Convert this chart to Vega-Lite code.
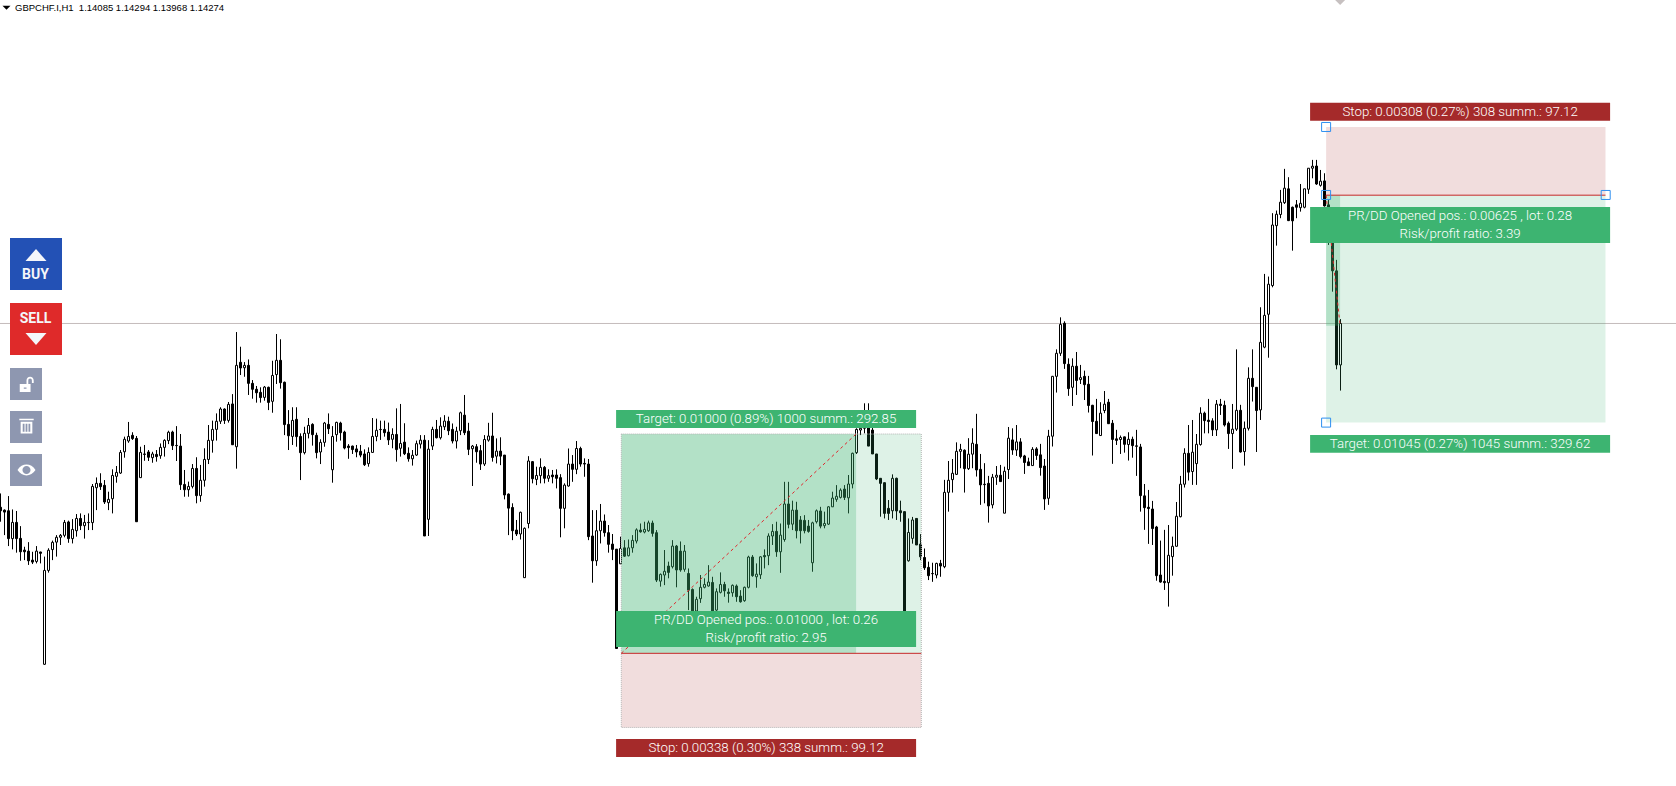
{"$schema":"https://vega.github.io/schema/vega-lite/v6.json","width":1676,"height":786,"autosize":{"type":"none"},"padding":0,"background":"#ffffff","config":{"view":{"stroke":null}},
"datasets":{
"candles":[
{"t":0,"o":1.13436,"h":1.13499,"l":1.13370,"c":1.13420},{"t":1,"o":1.13423,"h":1.13426,"l":1.13309,"c":1.13414},{"t":2,"o":1.13420,"h":1.13487,"l":1.13259,"c":1.13293},{"t":3,"o":1.13293,"h":1.13426,"l":1.13244,"c":1.13367},{"t":4,"o":1.13367,"h":1.13419,"l":1.13229,"c":1.13293},{"t":5,"o":1.13294,"h":1.13350,"l":1.13192,"c":1.13233},{"t":6,"o":1.13241,"h":1.13256,"l":1.13195,"c":1.13233},{"t":7,"o":1.13236,"h":1.13277,"l":1.13173,"c":1.13192},{"t":8,"o":1.13195,"h":1.13233,"l":1.13177,"c":1.13186},{"t":9,"o":1.13189,"h":1.13259,"l":1.13180,"c":1.13236},
{"t":10,"o":1.13232,"h":1.13233,"l":1.13180,"c":1.13226},{"t":11,"o":1.12720,"h":1.13211,"l":1.12717,"c":1.13148},{"t":12,"o":1.13148,"h":1.13249,"l":1.13138,"c":1.13240},{"t":13,"o":1.13243,"h":1.13284,"l":1.13195,"c":1.13276},{"t":14,"o":1.13277,"h":1.13309,"l":1.13211,"c":1.13299},{"t":15,"o":1.13299,"h":1.13314,"l":1.13264,"c":1.13308},{"t":16,"o":1.13308,"h":1.13378,"l":1.13299,"c":1.13367},{"t":17,"o":1.13369,"h":1.13375,"l":1.13274,"c":1.13293},{"t":18,"o":1.13293,"h":1.13382,"l":1.13271,"c":1.13335},{"t":19,"o":1.13329,"h":1.13405,"l":1.13302,"c":1.13385},
{"t":20,"o":1.13385,"h":1.13408,"l":1.13332,"c":1.13352},{"t":21,"o":1.13352,"h":1.13401,"l":1.13293,"c":1.13367},{"t":22,"o":1.13367,"h":1.13408,"l":1.13332,"c":1.13366},{"t":23,"o":1.13366,"h":1.13542,"l":1.13332,"c":1.13531},{"t":24,"o":1.13525,"h":1.13572,"l":1.13423,"c":1.13545},{"t":25,"o":1.13545,"h":1.13591,"l":1.13515,"c":1.13530},{"t":26,"o":1.13536,"h":1.13560,"l":1.13451,"c":1.13460},{"t":27,"o":1.13457,"h":1.13507,"l":1.13423,"c":1.13472},{"t":28,"o":1.13475,"h":1.13609,"l":1.13408,"c":1.13581},{"t":29,"o":1.13577,"h":1.13624,"l":1.13548,"c":1.13595},
{"t":30,"o":1.13592,"h":1.13697,"l":1.13588,"c":1.13686},{"t":31,"o":1.13689,"h":1.13758,"l":1.13662,"c":1.13746},{"t":32,"o":1.13738,"h":1.13825,"l":1.13730,"c":1.13759},{"t":33,"o":1.13764,"h":1.13778,"l":1.13743,"c":1.13749},{"t":34,"o":1.13750,"h":1.13761,"l":1.13370,"c":1.13370},{"t":35,"o":1.13571,"h":1.13712,"l":1.13571,"c":1.13686},{"t":36,"o":1.13679,"h":1.13720,"l":1.13648,"c":1.13677},{"t":37,"o":1.13688,"h":1.13697,"l":1.13647,"c":1.13664},{"t":38,"o":1.13662,"h":1.13689,"l":1.13639,"c":1.13679},{"t":39,"o":1.13677,"h":1.13697,"l":1.13644,"c":1.13667},
{"t":40,"o":1.13671,"h":1.13727,"l":1.13657,"c":1.13709},{"t":41,"o":1.13709,"h":1.13746,"l":1.13667,"c":1.13741},{"t":42,"o":1.13740,"h":1.13785,"l":1.13724,"c":1.13778},{"t":43,"o":1.13779,"h":1.13785,"l":1.13697,"c":1.13717},{"t":44,"o":1.13718,"h":1.13806,"l":1.13647,"c":1.13717},{"t":45,"o":1.13715,"h":1.13770,"l":1.13515,"c":1.13539},{"t":46,"o":1.13540,"h":1.13606,"l":1.13484,"c":1.13516},{"t":47,"o":1.13516,"h":1.13553,"l":1.13484,"c":1.13531},{"t":48,"o":1.13531,"h":1.13633,"l":1.13522,"c":1.13613},{"t":49,"o":1.13613,"h":1.13664,"l":1.13454,"c":1.13489},
{"t":50,"o":1.13489,"h":1.13629,"l":1.13461,"c":1.13559},{"t":51,"o":1.13559,"h":1.13705,"l":1.13530,"c":1.13654},{"t":52,"o":1.13654,"h":1.13811,"l":1.13633,"c":1.13741},{"t":53,"o":1.13741,"h":1.13831,"l":1.13685,"c":1.13791},{"t":54,"o":1.13791,"h":1.13864,"l":1.13740,"c":1.13828},{"t":55,"o":1.13828,"h":1.13892,"l":1.13816,"c":1.13884},{"t":56,"o":1.13884,"h":1.13887,"l":1.13816,"c":1.13832},{"t":57,"o":1.13832,"h":1.13916,"l":1.13822,"c":1.13905},{"t":58,"o":1.13907,"h":1.13952,"l":1.13720,"c":1.13721},{"t":59,"o":1.13712,"h":1.14235,"l":1.13612,"c":1.14083},
{"t":60,"o":1.14097,"h":1.14168,"l":1.14039,"c":1.14071},{"t":61,"o":1.14072,"h":1.14098,"l":1.14031,"c":1.14083},{"t":62,"o":1.14083,"h":1.14110,"l":1.13948,"c":1.14001},{"t":63,"o":1.14001,"h":1.14016,"l":1.13931,"c":1.13974},{"t":64,"o":1.13974,"h":1.13989,"l":1.13913,"c":1.13958},{"t":65,"o":1.13960,"h":1.13983,"l":1.13913,"c":1.13936},{"t":66,"o":1.13937,"h":1.13989,"l":1.13922,"c":1.13984},{"t":67,"o":1.13983,"h":1.13986,"l":1.13879,"c":1.13914},{"t":68,"o":1.13919,"h":1.14104,"l":1.13867,"c":1.14037},{"t":69,"o":1.14041,"h":1.14226,"l":1.13998,"c":1.14106},
{"t":70,"o":1.14106,"h":1.14202,"l":1.13977,"c":1.14004},{"t":71,"o":1.14006,"h":1.14009,"l":1.13765,"c":1.13813},{"t":72,"o":1.13814,"h":1.13879,"l":1.13697,"c":1.13762},{"t":73,"o":1.13759,"h":1.13892,"l":1.13720,"c":1.13832},{"t":74,"o":1.13837,"h":1.13892,"l":1.13712,"c":1.13758},{"t":75,"o":1.13759,"h":1.13773,"l":1.13560,"c":1.13685},{"t":76,"o":1.13685,"h":1.13803,"l":1.13677,"c":1.13773},{"t":77,"o":1.13773,"h":1.13843,"l":1.13750,"c":1.13809},{"t":78,"o":1.13814,"h":1.13819,"l":1.13717,"c":1.13767},{"t":79,"o":1.13764,"h":1.13776,"l":1.13659,"c":1.13685},
{"t":80,"o":1.13688,"h":1.13746,"l":1.13633,"c":1.13732},{"t":81,"o":1.13732,"h":1.13825,"l":1.13712,"c":1.13820},{"t":82,"o":1.13814,"h":1.13864,"l":1.13770,"c":1.13794},{"t":83,"o":1.13607,"h":1.13806,"l":1.13548,"c":1.13759},{"t":84,"o":1.13767,"h":1.13826,"l":1.13735,"c":1.13823},{"t":85,"o":1.13820,"h":1.13826,"l":1.13740,"c":1.13776},{"t":86,"o":1.13779,"h":1.13785,"l":1.13700,"c":1.13706},{"t":87,"o":1.13715,"h":1.13724,"l":1.13657,"c":1.13708},{"t":88,"o":1.13715,"h":1.13717,"l":1.13679,"c":1.13699},{"t":89,"o":1.13702,"h":1.13720,"l":1.13664,"c":1.13688},
{"t":90,"o":1.13691,"h":1.13720,"l":1.13664,"c":1.13674},{"t":91,"o":1.13679,"h":1.13700,"l":1.13624,"c":1.13630},{"t":92,"o":1.13635,"h":1.13709,"l":1.13621,"c":1.13686},{"t":93,"o":1.13686,"h":1.13843,"l":1.13685,"c":1.13759},{"t":94,"o":1.13759,"h":1.13840,"l":1.13737,"c":1.13787},{"t":95,"o":1.13791,"h":1.13831,"l":1.13743,"c":1.13790},{"t":96,"o":1.13791,"h":1.13831,"l":1.13758,"c":1.13776},{"t":97,"o":1.13779,"h":1.13822,"l":1.13720,"c":1.13743},{"t":98,"o":1.13746,"h":1.13796,"l":1.13705,"c":1.13768},{"t":99,"o":1.13768,"h":1.13887,"l":1.13644,"c":1.13699},
{"t":100,"o":1.13705,"h":1.13907,"l":1.13667,"c":1.13727},{"t":101,"o":1.13733,"h":1.13819,"l":1.13674,"c":1.13680},{"t":102,"o":1.13682,"h":1.13709,"l":1.13644,"c":1.13657},{"t":103,"o":1.13657,"h":1.13697,"l":1.13626,"c":1.13673},{"t":104,"o":1.13674,"h":1.13740,"l":1.13670,"c":1.13726},{"t":105,"o":1.13724,"h":1.13765,"l":1.13704,"c":1.13742},{"t":106,"o":1.13742,"h":1.13765,"l":1.13305,"c":1.13305},{"t":107,"o":1.13381,"h":1.13742,"l":1.13305,"c":1.13701},{"t":108,"o":1.13715,"h":1.13803,"l":1.13697,"c":1.13791},{"t":109,"o":1.13791,"h":1.13834,"l":1.13750,"c":1.13753},
{"t":110,"o":1.13753,"h":1.13846,"l":1.13745,"c":1.13806},{"t":111,"o":1.13803,"h":1.13856,"l":1.13788,"c":1.13829},{"t":112,"o":1.13828,"h":1.13849,"l":1.13765,"c":1.13785},{"t":113,"o":1.13791,"h":1.13818,"l":1.13727,"c":1.13738},{"t":114,"o":1.13738,"h":1.13803,"l":1.13704,"c":1.13783},{"t":115,"o":1.13785,"h":1.13872,"l":1.13765,"c":1.13867},{"t":116,"o":1.13856,"h":1.13948,"l":1.13765,"c":1.13776},{"t":117,"o":1.13783,"h":1.13821,"l":1.13674,"c":1.13700},{"t":118,"o":1.13703,"h":1.13720,"l":1.13533,"c":1.13715},{"t":119,"o":1.13712,"h":1.13724,"l":1.13639,"c":1.13689},
{"t":120,"o":1.13694,"h":1.13720,"l":1.13606,"c":1.13633},{"t":121,"o":1.13633,"h":1.13765,"l":1.13624,"c":1.13745},{"t":122,"o":1.13742,"h":1.13821,"l":1.13735,"c":1.13761},{"t":123,"o":1.13761,"h":1.13867,"l":1.13644,"c":1.13663},{"t":124,"o":1.13669,"h":1.13750,"l":1.13636,"c":1.13692},{"t":125,"o":1.13692,"h":1.13755,"l":1.13628,"c":1.13669},{"t":126,"o":1.13674,"h":1.13674,"l":1.13472,"c":1.13492},{"t":127,"o":1.13496,"h":1.13499,"l":1.13309,"c":1.13432},{"t":128,"o":1.13435,"h":1.13454,"l":1.13286,"c":1.13329},{"t":129,"o":1.13332,"h":1.13378,"l":1.13305,"c":1.13314},
{"t":130,"o":1.13314,"h":1.13416,"l":1.13289,"c":1.13413},{"t":131,"o":1.13115,"h":1.13344,"l":1.13115,"c":1.13340},{"t":132,"o":1.13362,"h":1.13669,"l":1.13340,"c":1.13647},{"t":133,"o":1.13644,"h":1.13647,"l":1.13545,"c":1.13566},{"t":134,"o":1.13563,"h":1.13621,"l":1.13537,"c":1.13581},{"t":135,"o":1.13580,"h":1.13659,"l":1.13545,"c":1.13618},{"t":136,"o":1.13618,"h":1.13624,"l":1.13545,"c":1.13568},{"t":137,"o":1.13568,"h":1.13609,"l":1.13552,"c":1.13580},{"t":138,"o":1.13583,"h":1.13606,"l":1.13545,"c":1.13575},{"t":139,"o":1.13583,"h":1.13609,"l":1.13522,"c":1.13568},
{"t":140,"o":1.13571,"h":1.13587,"l":1.13299,"c":1.13431},{"t":141,"o":1.13431,"h":1.13545,"l":1.13340,"c":1.13537},{"t":142,"o":1.13533,"h":1.13704,"l":1.13530,"c":1.13633},{"t":143,"o":1.13633,"h":1.13674,"l":1.13552,"c":1.13609},{"t":144,"o":1.13609,"h":1.13738,"l":1.13587,"c":1.13704},{"t":145,"o":1.13704,"h":1.13712,"l":1.13621,"c":1.13633},{"t":146,"o":1.13636,"h":1.13659,"l":1.13575,"c":1.13633},{"t":147,"o":1.13633,"h":1.13656,"l":1.13286,"c":1.13302},{"t":148,"o":1.13305,"h":1.13423,"l":1.13092,"c":1.13192},{"t":149,"o":1.13192,"h":1.13423,"l":1.13169,"c":1.13329},
{"t":150,"o":1.13329,"h":1.13451,"l":1.13271,"c":1.13373},{"t":151,"o":1.13373,"h":1.13403,"l":1.13302,"c":1.13320},{"t":152,"o":1.13320,"h":1.13355,"l":1.13229,"c":1.13267},{"t":153,"o":1.13268,"h":1.13314,"l":1.13195,"c":1.13244},{"t":154,"o":1.13245,"h":1.13245,"l":1.12792,"c":1.12792},{"t":155,"o":1.13178,"h":1.13302,"l":1.13178,"c":1.13248},{"t":156,"o":1.13251,"h":1.13286,"l":1.13210,"c":1.13213},{"t":157,"o":1.13215,"h":1.13289,"l":1.13212,"c":1.13251},{"t":158,"o":1.13251,"h":1.13309,"l":1.13229,"c":1.13285},{"t":159,"o":1.13282,"h":1.13340,"l":1.13271,"c":1.13333},
{"t":160,"o":1.13332,"h":1.13362,"l":1.13320,"c":1.13324},{"t":161,"o":1.13323,"h":1.13370,"l":1.13317,"c":1.13335},{"t":162,"o":1.13329,"h":1.13375,"l":1.13324,"c":1.13365},{"t":163,"o":1.13364,"h":1.13375,"l":1.13302,"c":1.13317},{"t":164,"o":1.13320,"h":1.13332,"l":1.13095,"c":1.13104},{"t":165,"o":1.13099,"h":1.13134,"l":1.13074,"c":1.13130},{"t":166,"o":1.13127,"h":1.13241,"l":1.13081,"c":1.13144},{"t":167,"o":1.13168,"h":1.13188,"l":1.13112,"c":1.13139},{"t":168,"o":1.13165,"h":1.13286,"l":1.13157,"c":1.13259},{"t":169,"o":1.13259,"h":1.13264,"l":1.13071,"c":1.13150},
{"t":170,"o":1.13236,"h":1.13280,"l":1.13142,"c":1.13150},{"t":171,"o":1.13153,"h":1.13264,"l":1.13142,"c":1.13236},{"t":172,"o":1.13134,"h":1.13157,"l":1.12967,"c":1.13058},{"t":173,"o":1.13061,"h":1.13066,"l":1.12952,"c":1.12963},{"t":174,"o":1.12963,"h":1.13028,"l":1.12950,"c":1.13016},{"t":175,"o":1.13019,"h":1.13127,"l":1.13000,"c":1.13071},{"t":176,"o":1.13071,"h":1.13112,"l":1.13066,"c":1.13084},{"t":177,"o":1.13077,"h":1.13172,"l":1.13074,"c":1.13095},{"t":178,"o":1.13093,"h":1.13119,"l":1.12952,"c":1.12963},{"t":179,"o":1.12967,"h":1.13066,"l":1.12960,"c":1.13051},
{"t":180,"o":1.13048,"h":1.13139,"l":1.13043,"c":1.13084},{"t":181,"o":1.13084,"h":1.13096,"l":1.13028,"c":1.13055},{"t":182,"o":1.13049,"h":1.13066,"l":1.13001,"c":1.13043},{"t":183,"o":1.13046,"h":1.13084,"l":1.13028,"c":1.13080},{"t":184,"o":1.13077,"h":1.13084,"l":1.13005,"c":1.13028},{"t":185,"o":1.13031,"h":1.13058,"l":1.13001,"c":1.13005},{"t":186,"o":1.13010,"h":1.13074,"l":1.13005,"c":1.13071},{"t":187,"o":1.13071,"h":1.13215,"l":1.13066,"c":1.13209},{"t":188,"o":1.13209,"h":1.13218,"l":1.13119,"c":1.13124},{"t":189,"o":1.13119,"h":1.13180,"l":1.13069,"c":1.13131},
{"t":190,"o":1.13128,"h":1.13213,"l":1.13109,"c":1.13210},{"t":191,"o":1.13216,"h":1.13244,"l":1.13157,"c":1.13210},{"t":192,"o":1.13215,"h":1.13317,"l":1.13172,"c":1.13305},{"t":193,"o":1.13305,"h":1.13359,"l":1.13264,"c":1.13326},{"t":194,"o":1.13326,"h":1.13370,"l":1.13210,"c":1.13233},{"t":195,"o":1.13233,"h":1.13362,"l":1.13137,"c":1.13309},{"t":196,"o":1.13289,"h":1.13552,"l":1.13279,"c":1.13451},{"t":197,"o":1.13451,"h":1.13552,"l":1.13340,"c":1.13358},{"t":198,"o":1.13359,"h":1.13466,"l":1.13332,"c":1.13423},{"t":199,"o":1.13423,"h":1.13461,"l":1.13294,"c":1.13329},
{"t":200,"o":1.13378,"h":1.13396,"l":1.13271,"c":1.13329},{"t":201,"o":1.13376,"h":1.13400,"l":1.13317,"c":1.13329},{"t":202,"o":1.13350,"h":1.13378,"l":1.13320,"c":1.13326},{"t":203,"o":1.13183,"h":1.13370,"l":1.13142,"c":1.13365},{"t":204,"o":1.13370,"h":1.13426,"l":1.13362,"c":1.13420},{"t":205,"o":1.13419,"h":1.13438,"l":1.13340,"c":1.13350},{"t":206,"o":1.13352,"h":1.13416,"l":1.13340,"c":1.13362},{"t":207,"o":1.13359,"h":1.13441,"l":1.13355,"c":1.13438},{"t":208,"o":1.13438,"h":1.13507,"l":1.13438,"c":1.13478},{"t":209,"o":1.13472,"h":1.13537,"l":1.13461,"c":1.13486},
{"t":210,"o":1.13481,"h":1.13522,"l":1.13476,"c":1.13514},{"t":211,"o":1.13519,"h":1.13537,"l":1.13469,"c":1.13481},{"t":212,"o":1.13479,"h":1.13583,"l":1.13408,"c":1.13542},{"t":213,"o":1.13542,"h":1.13685,"l":1.13522,"c":1.13682},{"t":214,"o":1.13685,"h":1.13796,"l":1.13679,"c":1.13791},{"t":215,"o":1.13788,"h":1.13818,"l":1.13765,"c":1.13796},{"t":216,"o":1.13796,"h":1.13910,"l":1.13773,"c":1.13864},{"t":217,"o":1.13864,"h":1.13910,"l":1.13715,"c":1.13715},{"t":218,"o":1.13788,"h":1.13834,"l":1.13679,"c":1.13679},{"t":219,"o":1.13679,"h":1.13679,"l":1.13560,"c":1.13565},
{"t":220,"o":1.13568,"h":1.13568,"l":1.13393,"c":1.13545},{"t":221,"o":1.13548,"h":1.13548,"l":1.13385,"c":1.13408},{"t":222,"o":1.13431,"h":1.13469,"l":1.13378,"c":1.13408},{"t":223,"o":1.13420,"h":1.13586,"l":1.13385,"c":1.13568},{"t":224,"o":1.13568,"h":1.13571,"l":1.13378,"c":1.13419},{"t":225,"o":1.13420,"h":1.13466,"l":1.13370,"c":1.13411},{"t":226,"o":1.13416,"h":1.13416,"l":1.12963,"c":1.12963},{"t":227,"o":1.13192,"h":1.13385,"l":1.13188,"c":1.13321},{"t":228,"o":1.13294,"h":1.13392,"l":1.13270,"c":1.13378},{"t":229,"o":1.13385,"h":1.13385,"l":1.13264,"c":1.13264},
{"t":230,"o":1.13268,"h":1.13314,"l":1.13195,"c":1.13210},{"t":231,"o":1.13207,"h":1.13248,"l":1.13150,"c":1.13160},{"t":232,"o":1.13162,"h":1.13188,"l":1.13104,"c":1.13124},{"t":233,"o":1.13134,"h":1.13183,"l":1.13096,"c":1.13133},{"t":234,"o":1.13127,"h":1.13183,"l":1.13112,"c":1.13180},{"t":235,"o":1.13180,"h":1.13196,"l":1.13119,"c":1.13168},{"t":236,"o":1.13165,"h":1.13561,"l":1.13158,"c":1.13504},{"t":237,"o":1.13504,"h":1.13647,"l":1.13416,"c":1.13559},{"t":238,"o":1.13562,"h":1.13656,"l":1.13503,"c":1.13591},{"t":239,"o":1.13586,"h":1.13732,"l":1.13583,"c":1.13691},
{"t":240,"o":1.13691,"h":1.13725,"l":1.13614,"c":1.13700},{"t":241,"o":1.13696,"h":1.13700,"l":1.13503,"c":1.13612},{"t":242,"o":1.13612,"h":1.13751,"l":1.13606,"c":1.13678},{"t":243,"o":1.13678,"h":1.13796,"l":1.13614,"c":1.13728},{"t":244,"o":1.13723,"h":1.13862,"l":1.13576,"c":1.13606},{"t":245,"o":1.13609,"h":1.13679,"l":1.13447,"c":1.13538},{"t":246,"o":1.13541,"h":1.13637,"l":1.13454,"c":1.13539},{"t":247,"o":1.13545,"h":1.13579,"l":1.13366,"c":1.13442},{"t":248,"o":1.13447,"h":1.13588,"l":1.13431,"c":1.13573},{"t":249,"o":1.13573,"h":1.13624,"l":1.13538,"c":1.13582},
{"t":250,"o":1.13582,"h":1.13629,"l":1.13553,"c":1.13553},{"t":251,"o":1.13409,"h":1.13621,"l":1.13409,"c":1.13600},{"t":252,"o":1.13608,"h":1.13802,"l":1.13565,"c":1.13751},{"t":253,"o":1.13743,"h":1.13796,"l":1.13675,"c":1.13697},{"t":254,"o":1.13697,"h":1.13811,"l":1.13670,"c":1.13734},{"t":255,"o":1.13734,"h":1.13751,"l":1.13659,"c":1.13667},{"t":256,"o":1.13670,"h":1.13675,"l":1.13588,"c":1.13640},{"t":257,"o":1.13643,"h":1.13662,"l":1.13626,"c":1.13626},{"t":258,"o":1.13626,"h":1.13710,"l":1.13626,"c":1.13700},{"t":259,"o":1.13702,"h":1.13710,"l":1.13652,"c":1.13672},
{"t":260,"o":1.13675,"h":1.13725,"l":1.13580,"c":1.13617},{"t":261,"o":1.13624,"h":1.13656,"l":1.13424,"c":1.13474},{"t":262,"o":1.13477,"h":1.13789,"l":1.13447,"c":1.13760},{"t":263,"o":1.13760,"h":1.14035,"l":1.13713,"c":1.14033},{"t":264,"o":1.14033,"h":1.14156,"l":1.13959,"c":1.14138},{"t":265,"o":1.14138,"h":1.14302,"l":1.14126,"c":1.14270},{"t":266,"o":1.14275,"h":1.14284,"l":1.14067,"c":1.14091},{"t":267,"o":1.14088,"h":1.14115,"l":1.13944,"c":1.13977},{"t":268,"o":1.13983,"h":1.14115,"l":1.13898,"c":1.14079},{"t":269,"o":1.14079,"h":1.14144,"l":1.13948,"c":1.14014},
{"t":270,"o":1.14018,"h":1.14085,"l":1.13998,"c":1.14027},{"t":271,"o":1.14033,"h":1.14059,"l":1.13925,"c":1.13995},{"t":272,"o":1.13997,"h":1.14035,"l":1.13868,"c":1.13900},{"t":273,"o":1.13901,"h":1.13903,"l":1.13672,"c":1.13827},{"t":274,"o":1.13828,"h":1.13930,"l":1.13770,"c":1.13772},{"t":275,"o":1.13763,"h":1.13915,"l":1.13763,"c":1.13865},{"t":276,"o":1.13877,"h":1.13966,"l":1.13865,"c":1.13906},{"t":277,"o":1.13915,"h":1.13930,"l":1.13816,"c":1.13817},{"t":278,"o":1.13819,"h":1.13834,"l":1.13634,"c":1.13745},{"t":279,"o":1.13748,"h":1.13789,"l":1.13720,"c":1.13741},
{"t":280,"o":1.13745,"h":1.13763,"l":1.13679,"c":1.13754},{"t":281,"o":1.13757,"h":1.13758,"l":1.13685,"c":1.13723},{"t":282,"o":1.13722,"h":1.13778,"l":1.13649,"c":1.13746},{"t":283,"o":1.13746,"h":1.13758,"l":1.13662,"c":1.13717},{"t":284,"o":1.13716,"h":1.13789,"l":1.13579,"c":1.13714},{"t":285,"o":1.13711,"h":1.13725,"l":1.13416,"c":1.13489},{"t":286,"o":1.13488,"h":1.13542,"l":1.13333,"c":1.13434},{"t":287,"o":1.13436,"h":1.13515,"l":1.13269,"c":1.13430},{"t":288,"o":1.13428,"h":1.13465,"l":1.13264,"c":1.13339},{"t":289,"o":1.13346,"h":1.13351,"l":1.13101,"c":1.13124},
{"t":290,"o":1.13127,"h":1.13284,"l":1.13092,"c":1.13095},{"t":291,"o":1.13098,"h":1.13333,"l":1.13059,"c":1.13092},{"t":292,"o":1.13092,"h":1.13355,"l":1.12983,"c":1.13217},{"t":293,"o":1.13211,"h":1.13302,"l":1.13124,"c":1.13258},{"t":294,"o":1.13258,"h":1.13460,"l":1.13257,"c":1.13395},{"t":295,"o":1.13393,"h":1.13579,"l":1.13390,"c":1.13541},{"t":296,"o":1.13541,"h":1.13705,"l":1.13526,"c":1.13682},{"t":297,"o":1.13682,"h":1.13811,"l":1.13558,"c":1.13596},{"t":298,"o":1.13599,"h":1.13834,"l":1.13538,"c":1.13687},{"t":299,"o":1.13635,"h":1.13770,"l":1.13538,"c":1.13723},
{"t":300,"o":1.13722,"h":1.13892,"l":1.13717,"c":1.13865},{"t":301,"o":1.13865,"h":1.13872,"l":1.13773,"c":1.13831},{"t":302,"o":1.13833,"h":1.13930,"l":1.13773,"c":1.13827},{"t":303,"o":1.13830,"h":1.13842,"l":1.13761,"c":1.13789},{"t":304,"o":1.13789,"h":1.13925,"l":1.13761,"c":1.13906},{"t":305,"o":1.13906,"h":1.13930,"l":1.13857,"c":1.13900},{"t":306,"o":1.13901,"h":1.13922,"l":1.13804,"c":1.13811},{"t":307,"o":1.13819,"h":1.13827,"l":1.13702,"c":1.13772},{"t":308,"o":1.13772,"h":1.13907,"l":1.13611,"c":1.13792},{"t":309,"o":1.13792,"h":1.14156,"l":1.13784,"c":1.13878},
{"t":310,"o":1.13878,"h":1.13903,"l":1.13685,"c":1.13688},{"t":311,"o":1.13690,"h":1.13827,"l":1.13626,"c":1.13796},{"t":312,"o":1.13796,"h":1.14074,"l":1.13786,"c":1.14024},{"t":313,"o":1.14024,"h":1.14156,"l":1.13918,"c":1.13986},{"t":314,"o":1.13983,"h":1.13983,"l":1.13688,"c":1.13877},{"t":315,"o":1.13880,"h":1.14348,"l":1.13834,"c":1.14188},{"t":316,"o":1.14166,"h":1.14500,"l":1.14161,"c":1.14311},{"t":317,"o":1.14316,"h":1.14488,"l":1.14118,"c":1.14453},{"t":318,"o":1.14447,"h":1.14777,"l":1.14439,"c":1.14723},{"t":319,"o":1.14720,"h":1.14789,"l":1.14629,"c":1.14772},
{"t":320,"o":1.14771,"h":1.14883,"l":1.14754,"c":1.14827},{"t":321,"o":1.14825,"h":1.14979,"l":1.14819,"c":1.14891},{"t":322,"o":1.14888,"h":1.14941,"l":1.14741,"c":1.14743},{"t":323,"o":1.14804,"h":1.14807,"l":1.14606,"c":1.14742},{"t":324,"o":1.14815,"h":1.14837,"l":1.14754,"c":1.14804},{"t":325,"o":1.14802,"h":1.14910,"l":1.14784,"c":1.14822},{"t":326,"o":1.14804,"h":1.14888,"l":1.14799,"c":1.14888},{"t":327,"o":1.14886,"h":1.14982,"l":1.14865,"c":1.14982},{"t":328,"o":1.14982,"h":1.15020,"l":1.14936,"c":1.14991},{"t":329,"o":1.14992,"h":1.15020,"l":1.14906,"c":1.14910},
{"t":330,"o":1.14904,"h":1.14974,"l":1.14898,"c":1.14923},{"t":331,"o":1.14924,"h":1.14959,"l":1.14807,"c":1.14810},{"t":332,"o":1.14815,"h":1.14837,"l":1.14632,"c":1.14670},{"t":333,"o":1.14670,"h":1.14680,"l":1.14419,"c":1.14514},{"t":334,"o":1.14514,"h":1.14564,"l":1.14065,"c":1.14085},{"t":335,"o":1.14085,"h":1.14294,"l":1.13968,"c":1.14274}
],
"zones":[{"kind":"reward","t":155.2,"t2":230.2,"p":1.12770,"p2":1.13770},{"kind":"risk","t":155.2,"t2":230.2,"p":1.12432,"p2":1.12770},{"kind":"reward","t":331.4,"t2":401.25,"p":1.13822,"p2":1.14859},{"kind":"risk","t":331.4,"t2":401.25,"p":1.14859,"p2":1.15170}],
"progress":[{"t":155.2,"t2":213.9,"p":1.12770,"p2":1.13770},{"t":331.4,"t2":334.9,"p":1.14264,"p2":1.14859}],
"frame":[{"t":155.2,"t2":230.2,"p":1.12432,"p2":1.13770}],
"paths":[{"t":155.2,"t2":213.9,"p":1.12770,"p2":1.13770},{"t":331.4,"t2":334.9,"p":1.14859,"p2":1.14264}],
"entries":[{"t":155.2,"t2":230.2,"p":1.12770},{"t":331.4,"t2":401.25,"p":1.14859}],
"boxes":[{"kind":"good","t":153.9,"t2":228.9,"p":1.13797,"p2":1.13880},{"kind":"good","t":153.9,"t2":228.9,"p":1.12799,"p2":1.12963},{"kind":"bad","t":153.9,"t2":228.9,"p":1.12297,"p2":1.12379},{"kind":"bad","t":327.4,"t2":402.4,"p":1.15198,"p2":1.15280},{"kind":"good","t":327.4,"t2":402.4,"p":1.14641,"p2":1.14805},{"kind":"good","t":327.4,"t2":402.4,"p":1.13684,"p2":1.13766}],
"labels":[{"t":191.4,"p":1.13839,"label":"Target: 0.01000 (0.89%) 1000 summ.: 292.85"},{"t":191.4,"p":1.12920,"label":"PR/DD Opened pos.: 0.01000 , lot: 0.26"},{"t":191.4,"p":1.12838,"label":"Risk/profit ratio: 2.95"},{"t":191.4,"p":1.12338,"label":"Stop: 0.00338 (0.30%) 338 summ.: 99.12"},{"t":364.9,"p":1.15239,"label":"Stop: 0.00308 (0.27%) 308 summ.: 97.12"},{"t":364.9,"p":1.14763,"label":"PR/DD Opened pos.: 0.00625 , lot: 0.28"},{"t":364.9,"p":1.14681,"label":"Risk/profit ratio: 3.39"},{"t":364.9,"p":1.13725,"label":"Target: 0.01045 (0.27%) 1045 summ.: 329.62"}],
"handles":[{"t":331.4,"p":1.15170},{"t":331.4,"p":1.14860},{"t":401.3,"p":1.14860},{"t":331.4,"p":1.13822}],
"buttons":[{"kind":"buy","t":2.375,"t2":15.375,"p":1.14427,"p2":1.14664},{"kind":"sell","t":2.375,"t2":15.375,"p":1.14130,"p2":1.14367},{"kind":"tool","t":2.375,"t2":10.375,"p":1.13925,"p2":1.14071},{"kind":"tool","t":2.375,"t2":10.375,"p":1.13729,"p2":1.13875},{"kind":"tool","t":2.375,"t2":10.375,"p":1.13533,"p2":1.13679}],
"arrows":[{"glyph":"up","t":8.875,"p":1.14586},{"glyph":"down","t":8.875,"p":1.14203}],
"buttonText":[{"t":8.75,"p":1.14495,"label":"BUY"},{"t":8.75,"p":1.14293,"label":"SELL"}],
"icons":[{"glyph":"lock","t":6.5,"p":1.13994},{"glyph":"trash","t":6.5,"p":1.13807},{"glyph":"eye","t":6.5,"p":1.13606}]
},
"encoding":{"x":{"field":"t","type":"quantitative","scale":{"domain":[-0.125,418.875],"nice":false,"zero":false,"padding":0},"axis":null},"y":{"field":"p","type":"quantitative","scale":{"domain":[1.12165,1.15749],"nice":false,"zero":false},"axis":null}},
"layer":[
{"data":{"values":[{"p":1.14274}]},"mark":{"type":"rule","color":"#c4bcbc","strokeWidth":1},"encoding":{"x":{"value":0},"x2":{"value":1676}}},
{"data":{"name":"candles"},"mark":{"type":"rule","color":"#000000","strokeWidth":1},"encoding":{"y":{"field":"l","type":"quantitative","axis":null},"y2":{"field":"h"}}},
{"data":{"name":"candles"},"mark":{"type":"bar","size":2,"stroke":"#000000","strokeWidth":1},"encoding":{"y":{"field":"o","type":"quantitative","axis":null},"y2":{"field":"c"},"fill":{"condition":{"test":"datum.c>=datum.o","value":"#ffffff"},"value":"#000000"}}},
{"data":{"name":"zones"},"transform":[{"filter":"datum.kind==='reward'"}],"mark":{"type":"rect","fill":"#3cb371","opacity":0.17},"encoding":{"x2":{"field":"t2"},"y2":{"field":"p2"}}},
{"data":{"name":"zones"},"transform":[{"filter":"datum.kind==='risk'"}],"mark":{"type":"rect","fill":"#a52a2a","opacity":0.16},"encoding":{"x2":{"field":"t2"},"y2":{"field":"p2"}}},
{"data":{"name":"progress"},"mark":{"type":"rect","fill":"#3cb371","opacity":0.265},"encoding":{"x2":{"field":"t2"},"y2":{"field":"p2"}}},
{"data":{"name":"frame"},"mark":{"type":"rect","fillOpacity":0,"stroke":"#b5b5b5","strokeWidth":1,"strokeDash":[1,1]},"encoding":{"x2":{"field":"t2"},"y2":{"field":"p2"}}},
{"data":{"name":"paths"},"mark":{"type":"rule","color":"#e0262c","strokeWidth":1,"strokeDash":[3,3]},"encoding":{"x2":{"field":"t2"},"y2":{"field":"p2"}}},
{"data":{"name":"entries"},"mark":{"type":"rule","color":"#c62828","strokeWidth":1},"encoding":{"x2":{"field":"t2"}}},
{"data":{"name":"boxes"},"mark":{"type":"rect"},"encoding":{"x2":{"field":"t2"},"y2":{"field":"p2"},"fill":{"field":"kind","type":"nominal","legend":null,"scale":{"domain":["good","bad","buy","sell","tool"],"range":["#3db471","#a52a2a","#2351b5","#df2a2a","#8e97b0"]}}}},
{"data":{"name":"labels"},"mark":{"type":"text","font":"Roboto","fontSize":13.3,"fontWeight":300,"color":"#ffffff","align":"center","baseline":"middle"},"encoding":{"text":{"field":"label","type":"nominal"}}},
{"data":{"name":"handles"},"mark":{"type":"point","shape":"square","filled":false,"size":81,"color":"#2e8ff0","strokeWidth":1,"opacity":1}},
{"data":{"name":"buttons"},"mark":{"type":"rect"},"encoding":{"x2":{"field":"t2"},"y2":{"field":"p2"},"fill":{"field":"kind","type":"nominal","legend":null,"scale":{"domain":["good","bad","buy","sell","tool"],"range":["#3db471","#a52a2a","#2351b5","#df2a2a","#8e97b0"]}}}},
{"data":{"name":"arrows"},"mark":{"type":"point","filled":true,"opacity":1,"color":"#f4f6fa","size":441,"strokeWidth":0},"encoding":{"shape":{"field":"glyph","type":"nominal","legend":null,"scale":{"domain":["up","down","lock","trash","eye"],"range":["M-1,0.57L1,0.57L0,-0.57Z","M-1,-0.57L1,-0.57L0,0.57Z","M-0.75,-0.1L0.45,-0.1L0.45,0.8L-0.75,0.8ZM-0.3,0.3L-0.3,0.42L0,0.42L0,0.3ZM0,-0.1L0,-0.5A0.4,0.4 0 0 1 0.8,-0.5L0.8,-0.2L0.6,-0.2L0.6,-0.5A0.2,0.2 0 0 0 0.2,-0.5L0.2,-0.1Z","M-0.8,-0.8L0.8,-0.8L0.8,-0.62L-0.8,-0.62ZM-0.65,-0.45L0.65,-0.45L0.65,0.85L-0.65,0.85ZM-0.42,-0.25L-0.42,0.65L-0.22,0.65L-0.22,-0.25ZM-0.1,-0.25L-0.1,0.65L0.1,0.65L0.1,-0.25ZM0.22,-0.25L0.22,0.65L0.42,0.65L0.42,-0.25Z","M-1,0C-0.5,-0.8 0.5,-0.8 1,0C0.5,0.8 -0.5,0.8 -1,0ZM0.45,0A0.45,0.45 0 1 0 -0.45,0A0.45,0.45 0 1 0 0.45,0Z"]}}}},
{"data":{"name":"buttonText"},"mark":{"type":"text","font":"Roboto","fontSize":14,"fontWeight":"bold","color":"#f4f6fa","align":"center","baseline":"middle"},"encoding":{"text":{"field":"label","type":"nominal"}}},
{"data":{"name":"icons"},"mark":{"type":"point","filled":true,"opacity":1,"color":"#ffffff","size":324,"strokeWidth":0},"encoding":{"shape":{"field":"glyph","type":"nominal","legend":null,"scale":{"domain":["up","down","lock","trash","eye"],"range":["M-1,0.57L1,0.57L0,-0.57Z","M-1,-0.57L1,-0.57L0,0.57Z","M-0.75,-0.1L0.45,-0.1L0.45,0.8L-0.75,0.8ZM-0.3,0.3L-0.3,0.42L0,0.42L0,0.3ZM0,-0.1L0,-0.5A0.4,0.4 0 0 1 0.8,-0.5L0.8,-0.2L0.6,-0.2L0.6,-0.5A0.2,0.2 0 0 0 0.2,-0.5L0.2,-0.1Z","M-0.8,-0.8L0.8,-0.8L0.8,-0.62L-0.8,-0.62ZM-0.65,-0.45L0.65,-0.45L0.65,0.85L-0.65,0.85ZM-0.42,-0.25L-0.42,0.65L-0.22,0.65L-0.22,-0.25ZM-0.1,-0.25L-0.1,0.65L0.1,0.65L0.1,-0.25ZM0.22,-0.25L0.22,0.65L0.42,0.65L0.42,-0.25Z","M-1,0C-0.5,-0.8 0.5,-0.8 1,0C0.5,0.8 -0.5,0.8 -1,0ZM0.45,0A0.45,0.45 0 1 0 -0.45,0A0.45,0.45 0 1 0 0.45,0Z"]}}}},
{"data":{"values":[{"t":3.625,"p":1.15714,"label":"GBPCHF.I,H1 \u00a01.14085 1.14294 1.13968 1.14274"}]},"mark":{"type":"text","font":"Liberation Sans","fontSize":9.5,"color":"#000000","align":"left","baseline":"middle"},"encoding":{"text":{"field":"label","type":"nominal"}}},
{"data":{"values":[{"t":1.5,"p":1.15714}]},"mark":{"type":"point","filled":true,"opacity":1,"color":"#000000","size":64,"strokeWidth":0,"shape":"M-1,-0.5L1,-0.5L0,0.5Z"}},
{"data":{"values":[{"t":334.9,"p":1.15749}]},"mark":{"type":"point","filled":true,"opacity":1,"color":"#c6c0c0","size":100,"strokeWidth":0,"shape":"diamond"}}
]}
